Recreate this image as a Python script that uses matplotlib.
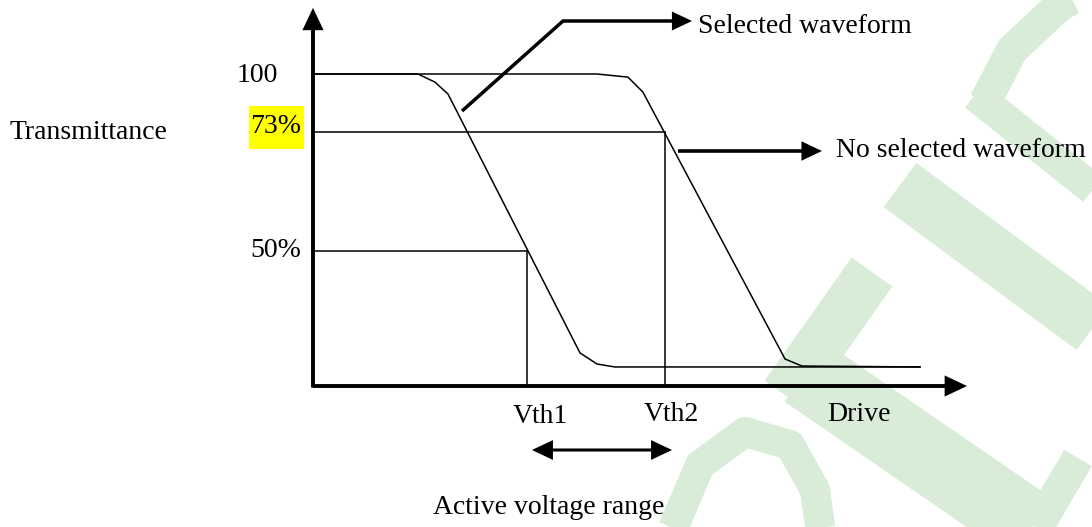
import matplotlib
matplotlib.use("Agg")
import matplotlib.pyplot as plt
from matplotlib.transforms import Affine2D
from matplotlib.patches import FancyArrowPatch, Rectangle

# ---------------- data (schematic units: drive 0..100, transmittance 0..100) -------------
selected_x = [0, 16.1, 18.7, 20.7, 40.95, 43.56, 46.3, 93.1]
selected_y = [100, 100, 97.4, 93.6, 10.6, 7.05, 6.1, 6.1]
noselected_x = [0, 43.56, 48.3, 50.6, 72.4, 75.0, 93.1]
noselected_y = [100, 100, 99.0, 94.2, 8.65, 6.4, 6.1]
level_labels = ["100", "73%", "50%"]
level_values = [100, 81.4, 43.3]
vth_labels = ["Vth1", "Vth2"]
vth_values = [32.8, 54.0]
x_label = "Drive"
y_label = "Transmittance"
range_label = "Active voltage range"
selected_label = "Selected waveform"
noselected_label = "No selected waveform"

# ---------------- layout ----------------
W, H = 1092, 527
fig = plt.figure(figsize=(W / 100, H / 100), dpi=100)
ax = fig.add_axes([0, 0, 1, 1])
ox, oy = 313, 386          # pixel position of the origin
sx, sy = 6.52, 3.12        # pixels per data unit
ax.set_xlim(-ox / sx, (W - ox) / sx)
ax.set_ylim(-(H - oy) / sy, oy / sy)
ax.axis("off")

pix = Affine2D().scale(1 / W, -1 / H).translate(0, 1) + fig.transFigure

FONT = dict(family="Liberation Serif", fontsize=20, color="black")

# ---------------- watermark (light green) ----------------
wm = "#d8ecd8"
wm_strokes = [
    ([(985, 102), (1012, 50), (1060, 5), (1080, -5)], 32),
    ([(975, 95), (1100, 195)], 32),
    ([(900, 185), (1100, 333)], 55),
    ([(785, 395), (872, 272)], 50),
    ([(805, 372), (1100, 575)], 72),
    ([(668, 540), (700, 465), (745, 432), (790, 445), (815, 490), (822, 540)], 30),
    ([(1078, 458), (1030, 540)], 32),
]
for pts, lw in wm_strokes:
    xs, ys = zip(*pts)
    ax.plot(xs, ys, color=wm, lw=lw * 0.72, transform=pix, zorder=0,
            solid_capstyle="butt", solid_joinstyle="round")

# ---------------- curves ----------------
ax.plot(selected_x, selected_y, color="black", lw=1.1, zorder=3)
ax.plot(noselected_x, noselected_y, color="black", lw=1.1, zorder=3)

# reference levels and threshold lines
ax.plot([0, vth_values[1]], [level_values[1], level_values[1]], color="black", lw=1.1)
ax.plot([vth_values[1], vth_values[1]], [0, level_values[1]], color="black", lw=1.1)
ax.plot([0, vth_values[0]], [level_values[2], level_values[2]], color="black", lw=1.1)
ax.plot([vth_values[0], vth_values[0]], [0, level_values[2]], color="black", lw=1.1)

# ---------------- axes with arrows ----------------
arrow_kw = dict(color="black", shrinkA=0, shrinkB=0, zorder=4, joinstyle="miter", capstyle="butt")
ax.add_patch(FancyArrowPatch((0, 0), (100.3, 0), arrowstyle="-|>,head_length=0.95,head_width=0.45",
                             mutation_scale=12, lw=2.8, **arrow_kw))
ax.add_patch(FancyArrowPatch((0, -0.5), (0, 121.2), arrowstyle="-|>,head_length=0.95,head_width=0.45",
                             mutation_scale=12, lw=2.8, **arrow_kw))

# ---------------- labels ----------------
ax.text(278, 82, level_labels[0], ha="right", va="baseline", transform=pix, **FONT)
ax.add_patch(Rectangle((249, 106), 55, 43, transform=pix, facecolor="#ffff00", edgecolor="none", zorder=1))
ax.text(301, 133, level_labels[1], ha="right", va="baseline", transform=pix, zorder=2, **FONT)
ax.text(301, 257, level_labels[2], ha="right", va="baseline", transform=pix, **FONT)
ax.text(9, 139, y_label, ha="left", va="baseline", transform=pix, **FONT)

ax.text(540, 423, vth_labels[0], ha="center", va="baseline", transform=pix, **FONT)
ax.text(671, 421, vth_labels[1], ha="center", va="baseline", transform=pix, **FONT)
ax.text(859, 421, x_label, ha="center", va="baseline", transform=pix, **FONT)
ax.text(549, 514, range_label, ha="center", va="baseline", transform=pix, **FONT)

# active range double arrow
ax.add_patch(FancyArrowPatch((532, 450), (672, 450), transform=pix,
                             arrowstyle="<|-|>,head_length=0.95,head_width=0.45",
                             mutation_scale=12, lw=2.2, **arrow_kw))

# selected waveform pointer
ax.plot([462, 563, 680], [111, 21, 21], color="black", lw=2.5, transform=pix,
        solid_capstyle="butt", solid_joinstyle="miter")
ax.add_patch(FancyArrowPatch((675, 21), (692, 21), transform=pix,
                             arrowstyle="-|>,head_length=0.95,head_width=0.45",
                             mutation_scale=11, lw=2.4, **arrow_kw))
ax.text(698, 33, selected_label, ha="left", va="baseline", transform=pix, **FONT)

# no selected waveform pointer
ax.add_patch(FancyArrowPatch((678, 151), (822, 151), transform=pix,
                             arrowstyle="-|>,head_length=0.95,head_width=0.45",
                             mutation_scale=11, lw=2.6, **arrow_kw))
ax.text(836, 157, noselected_label, ha="left", va="baseline", transform=pix, **FONT)

fig.savefig("out.png", dpi=100, facecolor="white")
